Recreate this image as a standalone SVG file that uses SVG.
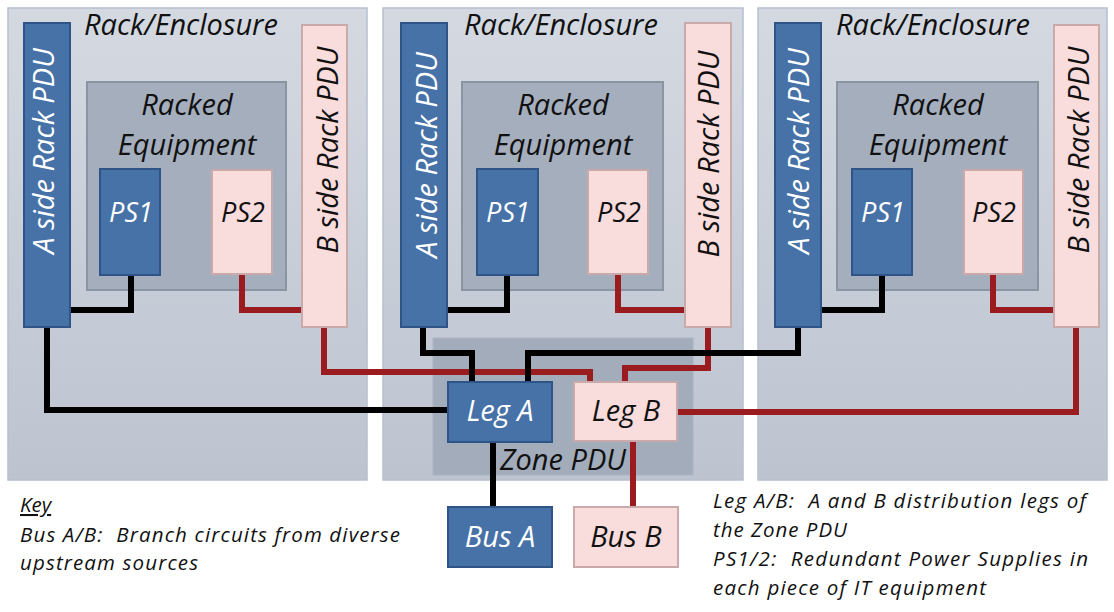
<svg xmlns="http://www.w3.org/2000/svg" width="1114" height="612" viewBox="0 0 1114 612">
<defs>
<linearGradient id="rackGrad" x1="0" y1="0" x2="0" y2="1">
<stop offset="0" stop-color="#d4d9e1"/>
<stop offset="1" stop-color="#bdc4d0"/>
</linearGradient>
<style>
.rack{fill:url(#rackGrad);stroke:#b6c0ce;stroke-width:1.5}
.equip{fill:#a4aebd;stroke:#8a95a4;stroke-width:2}
.zone{fill:#a2acba;stroke:#a9b3c1;stroke-width:1}
.blue{fill:#4672a8;stroke:#2f5487;stroke-width:2}
.pink{fill:#f9dcdc;stroke:#c9a9a9;stroke-width:2}
.t{font-family:"Open Sans","Liberation Sans",sans-serif;font-style:italic;text-anchor:middle}
.big{font-size:29px}
.ps{font-size:27px}
.w{fill:#ffffff}
.k{fill:#111111}
.key{font-family:"Open Sans","Liberation Sans",sans-serif;font-style:italic;font-size:20.5px;fill:#111111}
.wb{fill:none;stroke:#000000;stroke-width:6;stroke-linejoin:miter}
.wr{fill:none;stroke:#9b1c1f;stroke-width:6;stroke-linejoin:miter}
</style>
</defs>
<rect width="1114" height="612" fill="#ffffff"/>

<g id="rack1">
<rect class="rack" x="8" y="8" width="359" height="472"/>
<text class="t big k" x="181" y="35">Rack/Enclosure</text>
</g>
<g id="rack2">
<rect class="rack" x="383" y="8" width="360" height="472"/>
<text class="t big k" x="561" y="35">Rack/Enclosure</text>
</g>
<g id="rack3">
<rect class="rack" x="758" y="8" width="349" height="472"/>
<text class="t big k" x="933" y="35">Rack/Enclosure</text>
</g>

<g id="zone-pdu">
<rect class="zone" x="433" y="338" width="260" height="137"/>
<text class="t big k" x="563" y="470">Zone PDU</text>
</g>

<g id="equip1">
<rect class="equip" x="87" y="82" width="199" height="208"/>
<text class="t big k" x="187" y="115">Racked</text>
<text class="t big k" x="187" y="155">Equipment</text>
</g>
<g id="equip2">
<rect class="equip" x="462" y="82" width="201" height="208"/>
<text class="t big k" x="563" y="115">Racked</text>
<text class="t big k" x="563" y="155">Equipment</text>
</g>
<g id="equip3">
<rect class="equip" x="837" y="82" width="201" height="208"/>
<text class="t big k" x="938" y="115">Racked</text>
<text class="t big k" x="938" y="155">Equipment</text>
</g>

<g id="connectors">
<polyline class="wr" points="242,274 242,310 302,310"/>
<polyline class="wr" points="618,274 618,310 685,310"/>
<polyline class="wr" points="993,274 993,310 1054,310"/>
<polyline class="wr" points="324,327 324,372 590,372 590,382"/>
<polyline class="wr" points="708,327 708,368 625,368 625,382"/>
<polyline class="wr" points="677,412 1076,412 1076,327"/>
<polyline class="wr" points="633,441 633,507"/>
<polyline class="wb" points="131,275 131,310 70,310"/>
<polyline class="wb" points="507,275 507,310 447,310"/>
<polyline class="wb" points="882,275 882,310 821,310"/>
<polyline class="wb" points="47,327 47,410 448,410"/>
<polyline class="wb" points="423,327 423,353 472,353 472,382"/>
<polyline class="wb" points="798,327 798,353 528,353 528,382"/>
<polyline class="wb" points="493,442 493,507"/>
</g>

<g id="ps1-r1"><rect class="blue" x="100" y="169" width="60" height="106"/><text class="t ps w" x="131" y="222">PS1</text></g>
<g id="ps2-r1"><rect class="pink" x="212" y="170" width="60" height="104"/><text class="t ps k" x="243" y="222">PS2</text></g>
<g id="ps1-r2"><rect class="blue" x="477" y="169" width="61" height="106"/><text class="t ps w" x="508" y="222">PS1</text></g>
<g id="ps2-r2"><rect class="pink" x="588" y="170" width="60" height="104"/><text class="t ps k" x="619" y="222">PS2</text></g>
<g id="ps1-r3"><rect class="blue" x="852" y="169" width="60" height="106"/><text class="t ps w" x="883" y="222">PS1</text></g>
<g id="ps2-r3"><rect class="pink" x="964" y="170" width="59" height="104"/><text class="t ps k" x="994" y="222">PS2</text></g>

<g id="apdu-r1"><rect class="blue" x="24" y="23" width="46" height="304"/><text class="t big w" transform="translate(54,151) rotate(-90)">A side Rack PDU</text></g>
<g id="bpdu-r1"><rect class="pink" x="302" y="25" width="45" height="302"/><text class="t big k" transform="translate(338,150) rotate(-90)">B side Rack PDU</text></g>
<g id="apdu-r2"><rect class="blue" x="401" y="23" width="46" height="304"/><text class="t big w" transform="translate(437,155) rotate(-90)">A side Rack PDU</text></g>
<g id="bpdu-r2"><rect class="pink" x="685" y="23" width="46" height="304"/><text class="t big k" transform="translate(719,154) rotate(-90)">B side Rack PDU</text></g>
<g id="apdu-r3"><rect class="blue" x="775" y="23" width="46" height="304"/><text class="t big w" transform="translate(809,151) rotate(-90)">A side Rack PDU</text></g>
<g id="bpdu-r3"><rect class="pink" x="1054" y="25" width="45" height="302"/><text class="t big k" transform="translate(1089,150) rotate(-90)">B side Rack PDU</text></g>

<g id="leg-a"><rect class="blue" x="448" y="382" width="104" height="60"/><text class="t big w" x="500" y="421">Leg A</text></g>
<g id="leg-b"><rect class="pink" x="574" y="382" width="103" height="59"/><text class="t big k" x="626" y="421">Leg B</text></g>
<g id="bus-a"><rect class="blue" x="448" y="507" width="104" height="60"/><text class="t big w" x="500" y="547">Bus A</text></g>
<g id="bus-b"><rect class="pink" x="574" y="507" width="104" height="60"/><text class="t big k" x="626" y="547">Bus B</text></g>

<g id="key-left">
<text class="key" x="20" y="512" text-decoration="underline">Key</text>
<text class="key" x="20" y="542" xml:space="preserve" textLength="380">Bus A/B:  Branch circuits from diverse</text>
<text class="key" x="20" y="570" textLength="178">upstream sources</text>
</g>
<g id="key-right">
<text class="key" x="713" y="508" xml:space="preserve" textLength="373">Leg A/B:  A and B distribution legs of</text>
<text class="key" x="713" y="537" textLength="134">the Zone PDU</text>
<text class="key" x="713" y="566" xml:space="preserve" textLength="375">PS1/2:  Redundant Power Supplies in</text>
<text class="key" x="713" y="595" textLength="273">each piece of IT equipment</text>
</g>
</svg>
